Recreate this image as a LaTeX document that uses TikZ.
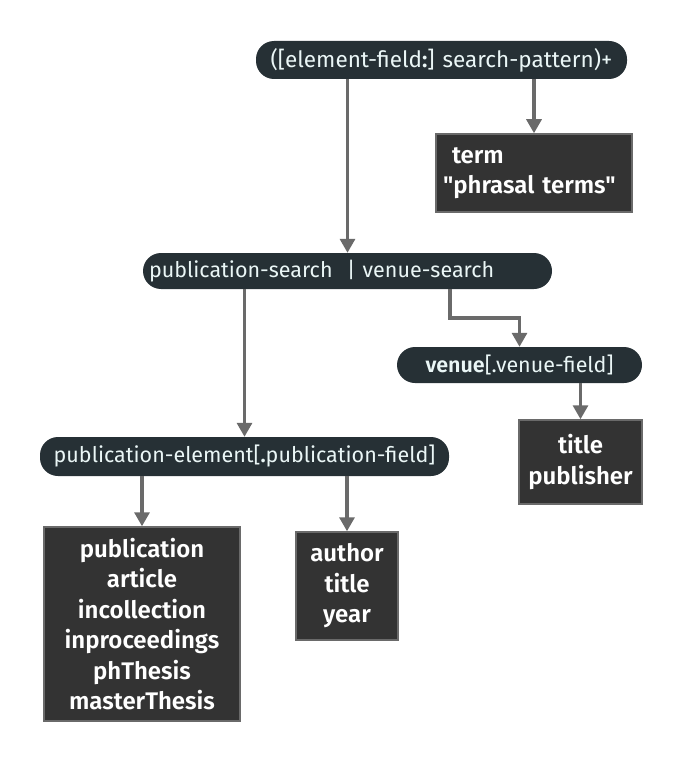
\documentclass[tikz,border=0pt]{standalone}
\usepackage{fontspec}
\setmainfont{Fira Sans}[BoldFont=* SemiBold, Ligatures=TeXOff]
\usepackage{tikz}
\usetikzlibrary{arrows.meta, positioning, calc}
\definecolor{pillgray}{HTML}{263035}
\definecolor{boxgray}{HTML}{333333}
\definecolor{edgegray}{HTML}{6A6A6A}
\definecolor{pilltext}{HTML}{EAF6F6}
\tikzset{
    arrow/.style={-{Triangle[length=14pt,width=15pt]}, line width=3.2pt, edgegray},
}
\begin{document}
\begin{tikzpicture}[x=1pt,y=-1pt,
  pill/.style={rectangle, rounded corners=18pt, fill=pillgray, text=pilltext, inner sep=0pt, font=\fontsize{21.5}{26}\selectfont},
  fieldbox/.style={rectangle, fill=boxgray, draw=edgegray, line width=1.5pt, text=white, inner sep=0pt, align=center, font=\fontsize{24}{30.5}\selectfont\bfseries}
]
\useasboundingbox (0,0) rectangle (683,762);
\node[pill,minimum width=371pt,minimum height=38pt,font=\fontsize{22.5}{26}\selectfont] (top) at (441.5,60) {([element-field\textbf{:}] search-pattern)+};
\node[fieldbox,minimum width=196pt,minimum height=78pt,text width=182pt,align=left] (term) at (534,173) {\hspace*{9pt}term\\"phrasal terms"};
\node[pill,minimum width=409pt,minimum height=36pt,text width=397pt,align=left] (search) at (347.5,271) {publication-search\ \ | venue-search};
\node[pill,minimum width=245pt,minimum height=36pt] (venue) at (519.5,365) {\textbf{venue}[.venue-field]};
\node[fieldbox,minimum width=123pt,minimum height=84pt] (venuefields) at (580.5,462) {title\\publisher};
\node[pill,minimum width=409pt,minimum height=39pt] (pubelem) at (244.5,456.5) {publication-element[\textbf{.}publication-field]};
\node[fieldbox,minimum width=196pt,minimum height=194pt] (pubtypes) at (142,624) {publication\\article\\incollection\\inproceedings\\phThesis\\masterThesis};
\node[fieldbox,minimum width=102pt,minimum height=108pt] (pubfields) at (347,586) {author\\title\\year};

\coordinate (bend) at (450,318);
\draw[arrow] (top.south -| search.north) -- (search.north);
\draw[arrow] (top.south -| term.north) -- (term.north);
\draw[arrow] (search.south -| pubelem.north) -- (pubelem.north);
\draw[arrow] (search.south -| bend) -- (bend) -| (venue.north);
\draw[arrow] (venue.south -| venuefields.north) -- (venuefields.north);
\draw[arrow] (pubelem.south -| pubtypes.north) -- (pubtypes.north);
\draw[arrow] (pubelem.south -| pubfields.north) -- (pubfields.north);
\end{tikzpicture}
\end{document}
